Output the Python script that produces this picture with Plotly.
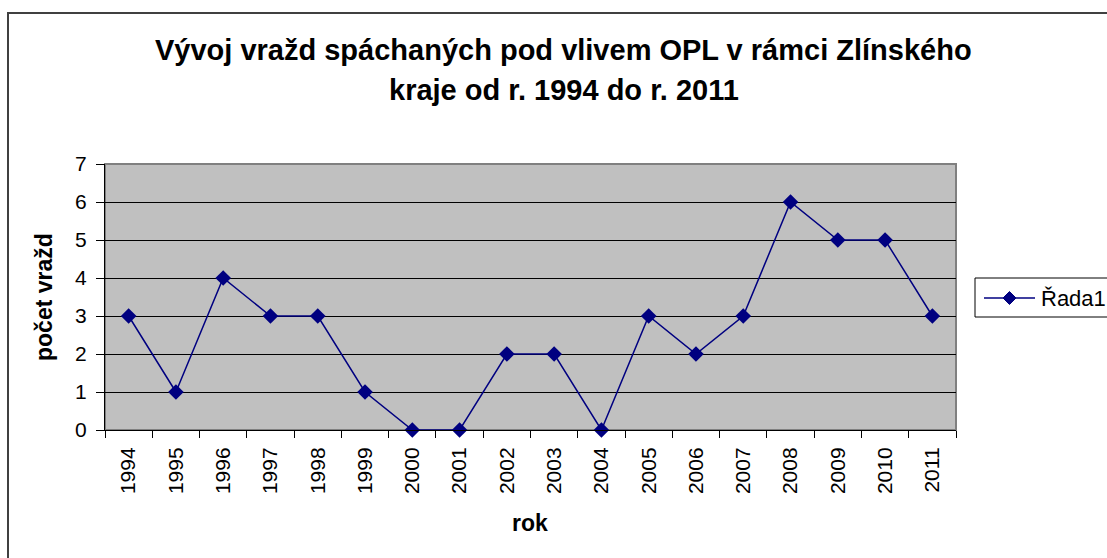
import plotly.graph_objects as go

years = [str(y) for y in range(1994, 2012)]
values = [3, 1, 4, 3, 3, 1, 0, 0, 2, 2, 0, 3, 2, 3, 6, 5, 5, 3]
series_name = "Řada1"
title_lines = ["Vývoj vražd spáchaných pod vlivem OPL v rámci Zlínského",
               "kraje od r. 1994 do r. 2011"]
x_title = "rok"
y_title = "počet vražd"

W, H = 1107, 558
L, R, T, B = 105, 956, 164, 430
pw, ph = R - L, B - T

def px(x):
    return (x - L) / pw

def py(y):
    return (B - y) / ph

FONT = "Liberation Sans, Arial, sans-serif"
NAVY = "#000080"

fig = go.Figure()
fig.add_trace(go.Scatter(
    x=years, y=values, name=series_name, mode="lines+markers",
    line=dict(color=NAVY, width=1.5),
    marker=dict(symbol="diamond", size=12, color=NAVY),
    cliponaxis=False, showlegend=False,
))

# manual legend geometry (pixels)
lg_y = 298
lg_x0, lg_x1 = 984, 1035
lg_c = (lg_x0 + lg_x1) / 2
d = 6.5
diamond_path = (f"M {px(lg_c)},{py(lg_y - d)} L {px(lg_c + d)},{py(lg_y)} "
                f"L {px(lg_c)},{py(lg_y + d)} L {px(lg_c - d)},{py(lg_y)} Z")

shapes = [
    dict(type="rect", xref="paper", yref="paper", x0=0, y0=0, x1=1, y1=1,
         line=dict(color="#808080", width=2), layer="below"),
    dict(type="rect", xref="paper", yref="paper",
         x0=px(8), y0=py(13), x1=px(1125), y1=py(575),
         line=dict(color="#404040", width=2)),
    dict(type="rect", xref="paper", yref="paper",
         x0=px(975), y0=py(278), x1=px(1125), y1=py(317),
         line=dict(color="black", width=1), fillcolor="white"),
    dict(type="line", xref="paper", yref="paper",
         x0=px(lg_x0), y0=py(lg_y), x1=px(lg_x1), y1=py(lg_y),
         line=dict(color=NAVY, width=1.5)),
    dict(type="path", xref="paper", yref="paper", path=diamond_path,
         fillcolor=NAVY, line=dict(color=NAVY, width=1)),
]

annotations = [
    dict(text=f"<b>{title_lines[0]}</b>", xref="paper", yref="paper",
         x=px(563), y=py(50), showarrow=False, font=dict(size=29, color="black", family=FONT),
         xanchor="center", yanchor="middle"),
    dict(text=f"<b>{title_lines[1]}</b>", xref="paper", yref="paper",
         x=px(564), y=py(90), showarrow=False, font=dict(size=29, color="black", family=FONT),
         xanchor="center", yanchor="middle"),
    dict(text=f"<b>{x_title}</b>", xref="paper", yref="paper",
         x=px(530), y=py(523), showarrow=False, font=dict(size=23, color="black", family=FONT),
         xanchor="center", yanchor="middle"),
    dict(text=f"<b>{y_title}</b>", xref="paper", yref="paper",
         x=px(44), y=py(297), showarrow=False, textangle=-90,
         font=dict(size=23, color="black", family=FONT),
         xanchor="center", yanchor="middle"),
    dict(text=series_name, xref="paper", yref="paper",
         x=px(1039), y=py(lg_y), showarrow=False,
         font=dict(size=22, color="black", family=FONT),
         xanchor="left", yanchor="middle"),
]

fig.update_layout(
    width=W, height=H,
    margin=dict(l=L, r=W - R, t=T, b=H - B, pad=0),
    paper_bgcolor="white", plot_bgcolor="#C0C0C0",
    font=dict(family=FONT, size=21, color="black"),
    showlegend=False,
    shapes=shapes, annotations=annotations,
)

fig.update_xaxes(
    type="category", tickson="boundaries", ticks="outside", ticklen=7,
    tickcolor="black", tickwidth=1, showline=True, linecolor="black", linewidth=1,
    showgrid=False, tickangle=-90, tickfont=dict(size=21, family=FONT, color="black"),
    range=[-0.5, len(years) - 0.5], zeroline=False, ticklabelstandoff=8,
)
fig.update_yaxes(
    range=[0, 7], dtick=1, tick0=0, ticks="outside", ticklen=8, tickcolor="black",
    showline=True, linecolor="black", linewidth=1, showgrid=True,
    gridcolor="#000000", gridwidth=1, zeroline=False, ticklabelstandoff=5,
    tickfont=dict(size=21, family=FONT, color="black"),
)

fig.write_html("out.html", config={"displayModeBar": False},
               post_script="document.body.style.margin='0';document.body.style.overflow='hidden';")
